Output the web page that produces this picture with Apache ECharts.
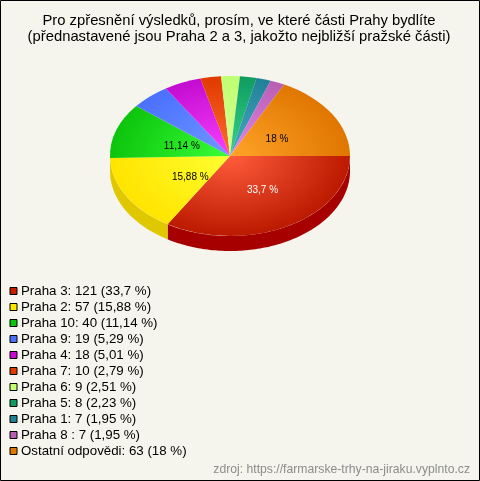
<!DOCTYPE html>
<html><head><meta charset="utf-8">
<style>html,body{margin:0;padding:0;background:#f5f5ed}#c{width:480px;height:481px}</style>
<script src="https://cdn.jsdelivr.net/npm/echarts@6/dist/echarts.min.js"></script>
</head><body><div id="c"></div>
<script>
const categories=['Praha 3','Praha 2','Praha 10','Praha 9','Praha 4','Praha 7','Praha 6','Praha 5','Praha 1','Praha 8 ','Ostatní odpovědi'];
const values=[121,57,40,19,18,10,9,8,7,7,63];
const percentLabels=['33,7','15,88','11,14','5,29','5,01','2,79','2,51','2,23','1,95','1,95','18'];
const sliceLabels=['33,7 %','15,88 %','11,14 %','','','','','','','','18 %'];
const labelColors=['#fff','#000','#000','#000','#000','#000','#000','#000','#000','#000','#000'];
const labelNudge=[[6,3],[7,3],[3,2],[0,0],[0,0],[0,0],[0,0],[0,0],[0,0],[0,0],[1,2]];
const swatch=['#c81e00','#ffe800','#0cc40c','#4a70ff','#c80cd0','#e23c00','#c4ff70','#0f9a60','#1f8096','#b85fb5','#e07800'];
const inner=['#ff5c3c','#ffff30','#38ff38','#7098ff','#f840ff','#ff6c30','#d8ff98','#38d488','#48acc0','#e488e8','#ffa428'];
const outer=['#bb1a00','#ffe400','#0cc40c','#4a70ff','#c40cd0','#e03a00','#c0ff70','#0f9c62','#208098','#b85eb4','#e07600'];
const sideCol=['#a60000','#e0c800','#0a9a0a','#3a58c8','#9a0aa4','#b02e00','#98c858','#0c7a4c','#186478','#904a8e','#b05e00'];
const title=['Pro zpřesnění výsledků, prosím, ve které části Prahy bydlíte','(přednastavené jsou Praha 2 a 3, jakožto nejbližší pražské části)'];
const source='zdroj: https://farmarske-trhy-na-jiraku.vyplnto.cz';

const CX=230,CY=156,RX=120,RY=80,DEPTH=15,total=values.reduce((a,b)=>a+b,0);
let acc=0;
const spans=values.map(v=>{const s=acc/total*2*Math.PI;acc+=v;return [s,acc/total*2*Math.PI];});
const names=categories.map((c,i)=>c+': '+values[i]+' ('+percentLabels[i]+' %)');

function renderSlice(i){
  return function(){
    const [a,b]=spans[i],kids=[];
    const s=Math.max(a,0),e=Math.min(b,Math.PI);
    if(e>s){
      const pts=[],n=Math.max(2,Math.ceil((e-s)/0.02));
      for(let k=0;k<=n;k++){const t=s+(e-s)*k/n;pts.push([CX+RX*Math.cos(t),CY+RY*Math.sin(t)]);}
      for(let k=n;k>=0;k--){const t=s+(e-s)*k/n;pts.push([CX+RX*Math.cos(t),CY+DEPTH+RY*Math.sin(t)]);}
      kids.push({type:'polygon',shape:{points:pts},style:{fill:sideCol[i]}});
    }
    kids.push({type:'sector',x:CX,y:CY,scaleY:RY/RX,
      shape:{cx:0,cy:0,r0:0,r:RX,startAngle:a,endAngle:b,clockwise:true},
      style:{fill:{type:'radial',x:0,y:0,r:RX,global:true,colorStops:[{offset:0,color:inner[i]},{offset:1,color:outer[i]}]}}});
    if(sliceLabels[i]){
      const m=(a+b)/2;
      kids.push({type:'text',z2:10,x:CX+0.45*RX*Math.cos(m)+labelNudge[i][0],y:CY+0.45*RY*Math.sin(m)+labelNudge[i][1],
        style:{text:sliceLabels[i],fill:labelColors[i],font:'10px "Liberation Sans",Arial,sans-serif',align:'center',verticalAlign:'middle'}});
    }
    return {type:'group',children:kids};
  };
}
const chart=echarts.init(document.getElementById('c'),null,{renderer:'canvas',width:480,height:481});
chart.setOption({
  animation:false,
  backgroundColor:'#f5f5ed',
  title:{text:title.join('\n'),left:234,top:8,textAlign:'center',
    textStyle:{fontFamily:'"Liberation Sans",Arial,sans-serif',fontSize:14.8,fontWeight:'normal',color:'#000',lineHeight:16}},
  legend:{orient:'vertical',left:9.5,top:284.5,icon:'rect',itemWidth:7,itemHeight:7,itemGap:3,selectedMode:false,
    padding:0,
    textStyle:{fontFamily:'"Liberation Sans",Arial,sans-serif',fontSize:13.3,color:'#000',lineHeight:13,padding:[0,0,0,-1]},
    data:names.map((n,i)=>({name:n,itemStyle:{color:swatch[i],borderColor:'#000',borderWidth:1}}))},
  graphic:[
    {type:'rect',silent:true,z:100,shape:{x:0.5,y:0.5,width:479,height:480},style:{fill:null,stroke:'#000',lineWidth:1}},
    {type:'text',z:100,right:10,top:464,style:{text:source,fill:'#8c8c8c',font:'12.2px "Liberation Sans",Arial,sans-serif'}}
  ],
  series:names.map((n,i)=>({type:'custom',name:n,coordinateSystem:'none',data:[values[i]],
    itemStyle:{color:swatch[i]},renderItem:renderSlice(i)}))
});
</script></body></html>
